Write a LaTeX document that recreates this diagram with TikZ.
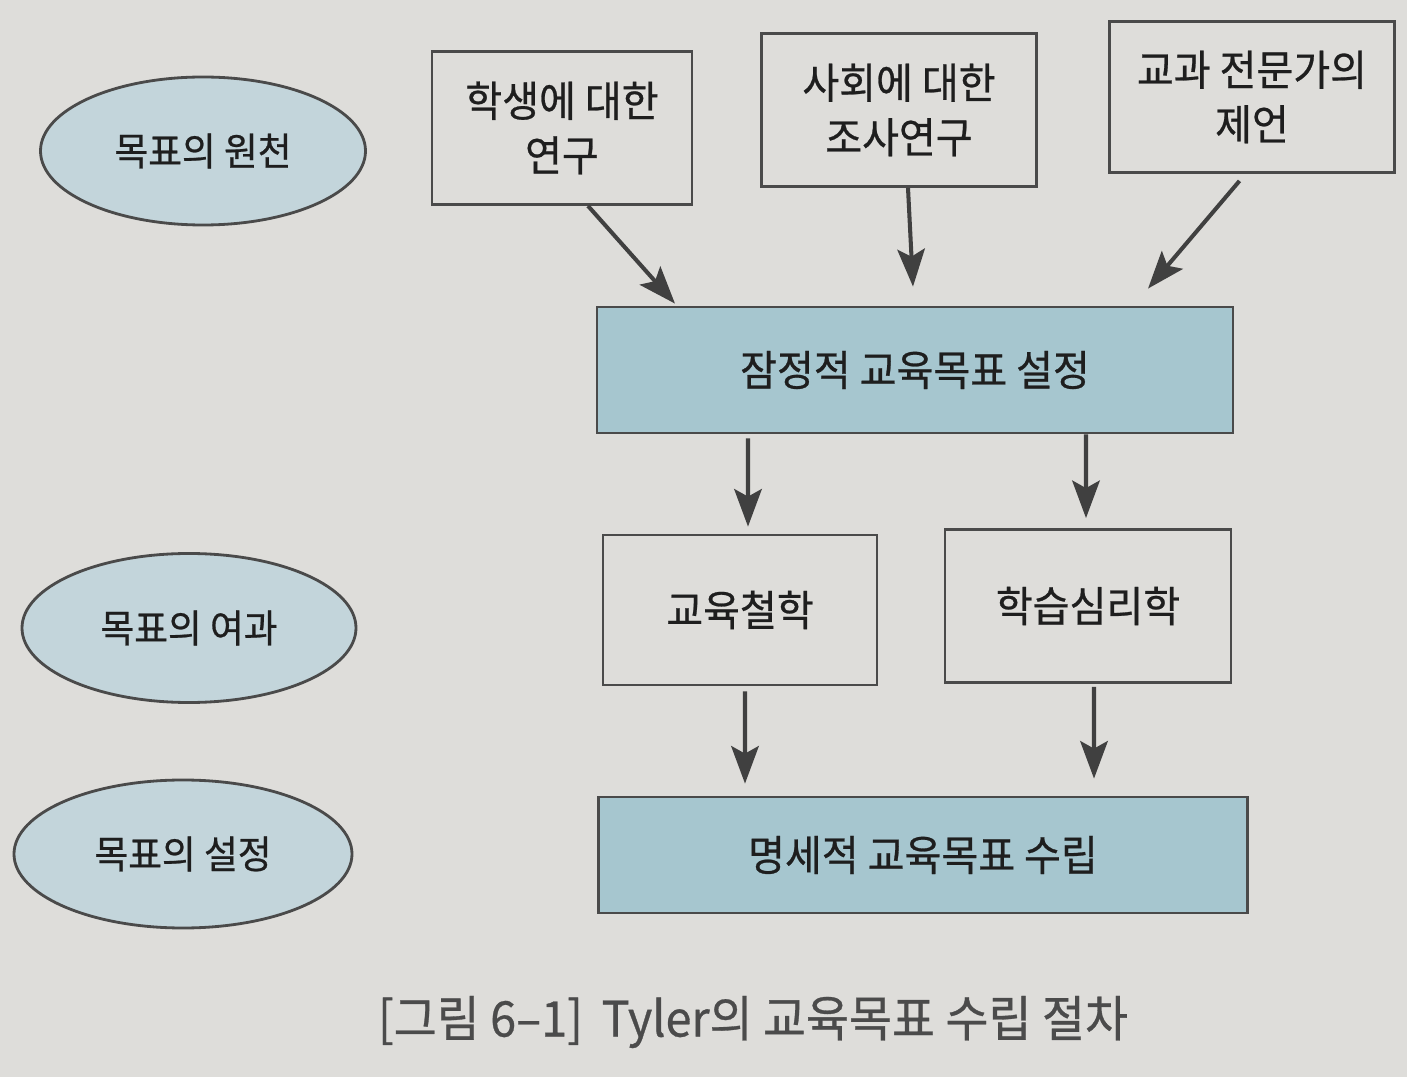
\documentclass[tikz,border=0pt]{standalone}
\usepackage{fontspec}
\setmainfont{Noto Sans CJK KR}[FakeStretch=0.95,FakeBold=0.6]
\usetikzlibrary{shapes.geometric,arrows.meta}
\definecolor{pagebg}{HTML}{DEDDDA}
\definecolor{ovalfill}{HTML}{C3D5DB}
\definecolor{boxfill}{HTML}{A6C6CF}
\definecolor{linecol}{HTML}{4A4A4A}
\definecolor{inkcol}{HTML}{1E1E1E}
\begin{document}
\begin{tikzpicture}[x=0.2mm,y=-0.2mm,
    stage/.style={ellipse,draw=linecol,line width=1.6pt,fill=ovalfill,text=inkcol,inner sep=0pt,
        font=\fontsize{22}{28}\selectfont},
    srcbox/.style={draw=linecol,line width=1.6pt,fill=pagebg,text=inkcol,align=center,inner sep=0pt,
        font=\fontsize{24}{31}\selectfont},
    mainbox/.style={srcbox,fill=boxfill},
    flow/.style={draw=inkcol!85,line width=2.3pt,-{Stealth[length=7.5mm,width=5.5mm,inset=1.5mm]}}]
	\fill[pagebg] (0,0) rectangle (1407,1077);
	% stages on the left
	\node[stage,minimum width=65mm,minimum height=29.6mm] (source) at (203,151) {목표의 원천};
	\node[stage,minimum width=66.8mm,minimum height=29.8mm] (filter) at (189,628) {목표의 여과};
	\node[stage,minimum width=67.6mm,minimum height=29.6mm] (setting) at (183,854) {목표의 설정};
	% sources
	\node[srcbox,minimum width=52mm,minimum height=30.6mm] (learner) at (562,128) {학생에 대한\\연구};
	\node[srcbox,minimum width=55mm,minimum height=30.6mm] (society) at (899,110) {사회에 대한\\조사연구};
	\node[srcbox,minimum width=57mm,minimum height=30.2mm] (expert) at (1252,97) {교과 전문가의\\제언};
	% goals and screens
	\node[mainbox,minimum width=127.2mm,minimum height=25.2mm] (tentative) at (915,370) {잠정적 교육목표 설정};
	\node[srcbox,minimum width=54.8mm,minimum height=30mm] (philosophy) at (740,610) {교육철학};
	\node[srcbox,minimum width=57.2mm,minimum height=30.6mm] (psychology) at (1088,606) {학습심리학};
	\node[mainbox,minimum width=129.8mm,minimum height=23.2mm] (specific) at (923,855) {명세적 교육목표 수립};
	% caption
	\node[text=inkcol!80,font=\fontsize{28}{34}\selectfont] (caption) at (753,1022) {[그림 6–1]\, Tyler의 교육목표 수립 절차};

	\path ([xshift=5.2mm]learner.south) edge[flow] ([xshift=-48mm,yshift=0.4mm]tentative.north)
	([xshift=1.8mm]society.south) edge[flow] ([xshift=-0.4mm,yshift=3.8mm]tentative.north)
	([xshift=-2.5mm,yshift=-1.4mm]expert.south) edge[flow] ([xshift=46.6mm,yshift=3.4mm]tentative.north)
	([xshift=-33.4mm,yshift=-0.8mm]tentative.south) edge[flow] ([xshift=1.6mm,yshift=1.4mm]philosophy.north)
	([xshift=34.2mm]tentative.south) edge[flow] ([xshift=-0.4mm,yshift=2mm]psychology.north)
	([xshift=1mm,yshift=-1mm]philosophy.south) edge[flow] ([xshift=-35.6mm,yshift=2.4mm]specific.north)
	([xshift=1.2mm,yshift=-0.6mm]psychology.south) edge[flow] ([xshift=34.2mm,yshift=3.4mm]specific.north);
\end{tikzpicture}
\end{document}
